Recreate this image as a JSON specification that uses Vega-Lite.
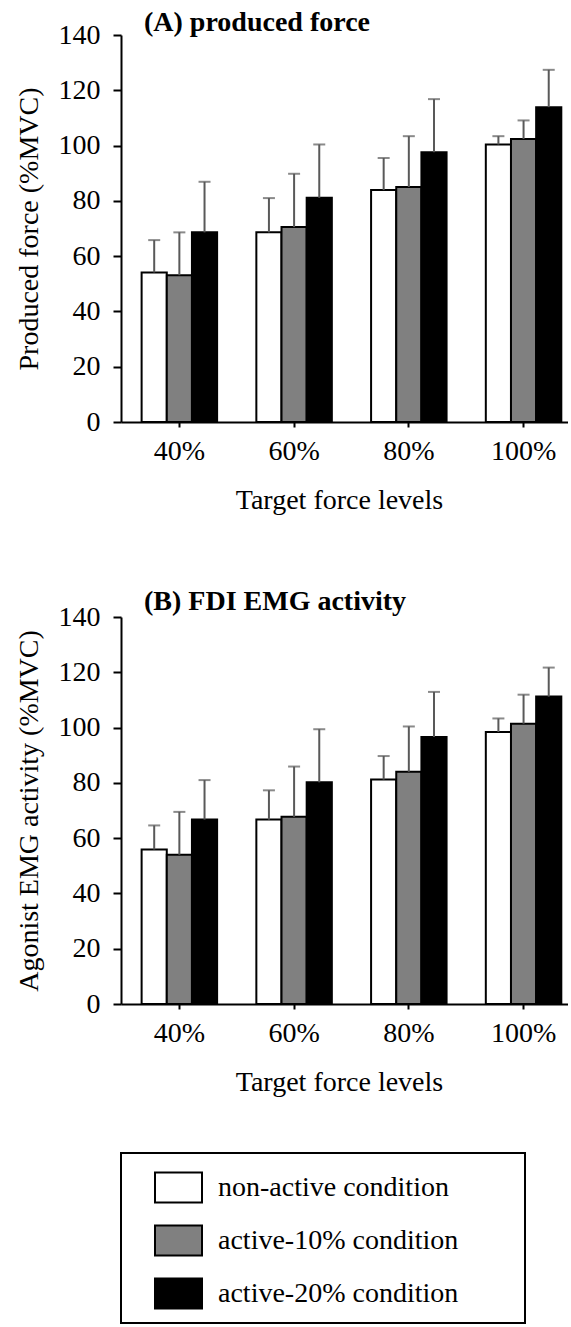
{
  "$schema": "https://vega.github.io/schema/vega-lite/v6.json",
  "padding": {"left": 15, "top": 9, "right": 0, "bottom": 0},
  "background": "white",
  "datasets": {
    "A": [
      {"level": "40%", "cond": "non-active condition", "value": 54.1, "upper": 65.8},
      {"level": "40%", "cond": "active-10% condition", "value": 53.1, "upper": 68.6},
      {"level": "40%", "cond": "active-20% condition", "value": 68.6, "upper": 86.9},
      {"level": "60%", "cond": "non-active condition", "value": 68.6, "upper": 81.0},
      {"level": "60%", "cond": "active-10% condition", "value": 70.5, "upper": 89.8},
      {"level": "60%", "cond": "active-20% condition", "value": 81.1, "upper": 100.4},
      {"level": "80%", "cond": "non-active condition", "value": 83.9, "upper": 95.5},
      {"level": "80%", "cond": "active-10% condition", "value": 85.0, "upper": 103.4},
      {"level": "80%", "cond": "active-20% condition", "value": 97.6, "upper": 116.8},
      {"level": "100%", "cond": "non-active condition", "value": 100.4, "upper": 103.4},
      {"level": "100%", "cond": "active-10% condition", "value": 102.4, "upper": 109.1},
      {"level": "100%", "cond": "active-20% condition", "value": 113.9, "upper": 127.4}
    ],
    "B": [
      {"level": "40%", "cond": "non-active condition", "value": 55.9, "upper": 64.6},
      {"level": "40%", "cond": "active-10% condition", "value": 54.0, "upper": 69.5},
      {"level": "40%", "cond": "active-20% condition", "value": 66.7, "upper": 81.0},
      {"level": "60%", "cond": "non-active condition", "value": 66.7, "upper": 77.3},
      {"level": "60%", "cond": "active-10% condition", "value": 67.7, "upper": 85.9},
      {"level": "60%", "cond": "active-20% condition", "value": 80.2, "upper": 99.4},
      {"level": "80%", "cond": "non-active condition", "value": 81.2, "upper": 89.7},
      {"level": "80%", "cond": "active-10% condition", "value": 84.0, "upper": 100.4},
      {"level": "80%", "cond": "active-20% condition", "value": 96.6, "upper": 112.9},
      {"level": "100%", "cond": "non-active condition", "value": 98.4, "upper": 103.3},
      {"level": "100%", "cond": "active-10% condition", "value": 101.4, "upper": 111.9},
      {"level": "100%", "cond": "active-20% condition", "value": 111.2, "upper": 121.7}
    ]
  },
  "config": {
    "view": {"stroke": null},
    "font": "Liberation Serif",
    "axis": {
      "domainColor": "black", "domainWidth": 2,
      "tickColor": "black", "tickWidth": 2,
      "labelFont": "Liberation Serif", "labelFontSize": 28, "labelColor": "black",
      "titleFont": "Liberation Serif", "titleFontSize": 28, "titleFontWeight": "normal", "titleColor": "black",
      "grid": false
    },
    "axisY": {"tickSize": 8, "labelPadding": 13, "titlePadding": 15},
    "axisX": {"tickSize": 5, "labelPadding": 10, "titlePadding": 21, "labelAngle": 0, "titleX": 218}
  },
  "spacing": 74,
  "vconcat": [
    {
      "width": 447, "height": 387,
      "data": {"name": "A"},
      "title": {"text": "(A) produced force", "anchor": "start", "frame": "group", "dx": 23, "offset": -38, "baseline": "alphabetic", "fontSize": 28, "font": "Liberation Serif", "fontWeight": "bold", "color": "black"},
      "encoding": {
        "x": {"field": "level", "type": "nominal", "sort": ["40%", "60%", "80%", "100%"], "scale": {"paddingInner": 0.342, "paddingOuter": 0.119, "align": 0.755}, "axis": {"title": "Target force levels"}},
        "xOffset": {"field": "cond", "type": "nominal", "sort": ["non-active condition", "active-10% condition", "active-20% condition"], "scale": {"paddingInner": 0, "paddingOuter": 0}}
      },
      "layer": [
        {
          "mark": {"type": "bar", "stroke": "black", "strokeWidth": 2},
          "encoding": {
            "y": {"field": "value", "type": "quantitative", "scale": {"domain": [0, 140]}, "axis": {"title": "Produced force (%MVC)", "values": [0, 20, 40, 60, 80, 100, 120, 140]}},
            "color": {"field": "cond", "type": "nominal", "sort": ["non-active condition", "active-10% condition", "active-20% condition"],
              "scale": {"domain": ["non-active condition", "active-10% condition", "active-20% condition"], "range": ["#ffffff", "#808080", "#000000"]},
              "legend": {"orient": "none", "legendX": 0, "legendY": 1118, "title": null,
                "symbolType": "M-1,-0.638L1,-0.638L1,0.638L-1,0.638Z", "symbolSize": 2209,
                "symbolStrokeColor": "black", "symbolStrokeWidth": 2, "symbolOpacity": 1,
                "labelFont": "Liberation Serif", "labelFontSize": 28, "labelColor": "black",
                "labelOffset": 15, "labelLimit": 0, "rowPadding": 9, "padding": 10, "symbolOffset": 23,
                "labelExpr": "datum.label + '\u2003\u2003\u200b'",
                "encode": {"legend": {"update": {"stroke": {"value": "black"}, "strokeWidth": {"value": 2}}}}}
            }
          }
        },
        {
          "mark": {"type": "rule", "color": "#595959", "strokeWidth": 2},
          "encoding": {"y": {"field": "value", "type": "quantitative"}, "y2": {"field": "upper"}}
        },
        {
          "mark": {"type": "tick", "color": "#595959", "thickness": 2, "size": 12},
          "encoding": {"y": {"field": "upper", "type": "quantitative"}}
        }
      ]
    },
    {
      "width": 447, "height": 387,
      "data": {"name": "B"},
      "title": {"text": "(B) FDI EMG activity", "anchor": "start", "frame": "group", "dx": 23, "offset": -35, "baseline": "alphabetic", "fontSize": 28, "font": "Liberation Serif", "fontWeight": "bold", "color": "black"},
      "encoding": {
        "x": {"field": "level", "type": "nominal", "sort": ["40%", "60%", "80%", "100%"], "scale": {"paddingInner": 0.342, "paddingOuter": 0.119, "align": 0.755}, "axis": {"title": "Target force levels"}},
        "xOffset": {"field": "cond", "type": "nominal", "sort": ["non-active condition", "active-10% condition", "active-20% condition"], "scale": {"paddingInner": 0, "paddingOuter": 0}}
      },
      "layer": [
        {
          "mark": {"type": "bar", "stroke": "black", "strokeWidth": 2},
          "encoding": {
            "y": {"field": "value", "type": "quantitative", "scale": {"domain": [0, 140]}, "axis": {"title": "Agonist EMG activity (%MVC)", "values": [0, 20, 40, 60, 80, 100, 120, 140]}},
            "color": {"field": "cond", "type": "nominal", "sort": ["non-active condition", "active-10% condition", "active-20% condition"],
              "scale": {"domain": ["non-active condition", "active-10% condition", "active-20% condition"], "range": ["#ffffff", "#808080", "#000000"]}}
          }
        },
        {
          "mark": {"type": "rule", "color": "#595959", "strokeWidth": 2},
          "encoding": {"y": {"field": "value", "type": "quantitative"}, "y2": {"field": "upper"}}
        },
        {
          "mark": {"type": "tick", "color": "#595959", "thickness": 2, "size": 12},
          "encoding": {"y": {"field": "upper", "type": "quantitative"}}
        }
      ]
    }
  ]
}
